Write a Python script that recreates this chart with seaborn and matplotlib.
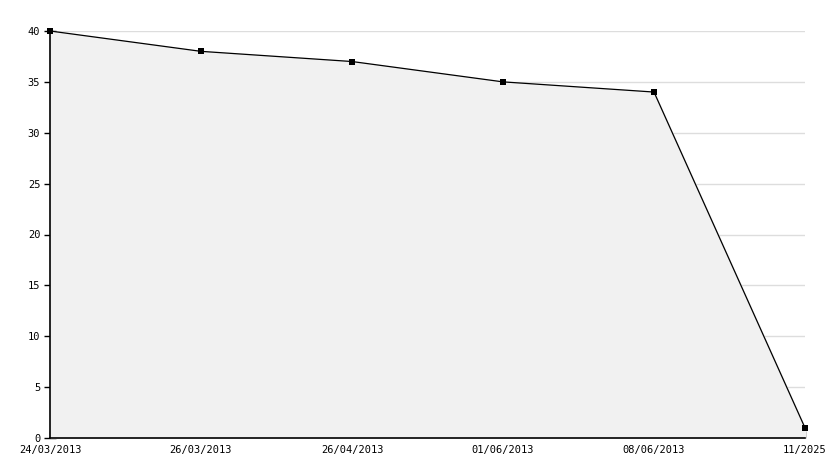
import pandas as pd
import numpy as np
import matplotlib
matplotlib.use("Agg")
import matplotlib.pyplot as plt
import seaborn as sns
from matplotlib.ticker import MultipleLocator

dates = ["24/03/2013", "26/03/2013", "26/04/2013", "01/06/2013", "08/06/2013", "11/2025"]
values = [40, 38, 37, 35, 34, 1]

sns.set_theme(style="white")
plt.rcParams['font.family'] = ['DejaVu Sans Mono', 'DejaVu Sans']

df = pd.DataFrame({"pos": np.arange(len(dates)), "value": values})

fig = plt.figure(figsize=(8.34, 4.68), dpi=100)
ax = fig.add_axes([50 / 834, 30 / 468, 755 / 834, 407 / 468])

ax.fill_between(df["pos"], df["value"], 0, color="#f1f1f1", zorder=1)
sns.lineplot(data=df, x="pos", y="value", ax=ax, color="black", linewidth=0.9,
             marker="s", markersize=4.5, markeredgewidth=0, zorder=3, clip_on=False)

ax.set_xlim(0, len(dates) - 1)
ax.set_ylim(0, 40)
ax.set_xticks(df["pos"])
ax.set_xticklabels(dates)
ax.yaxis.set_major_locator(MultipleLocator(5))
ax.yaxis.set_minor_locator(MultipleLocator(1))

for y in range(5, 41, 5):
    ax.axhline(y, color="#dddddd", linewidth=1, zorder=0)

for s in ["top", "right"]:
    ax.spines[s].set_visible(False)
for s in ["left", "bottom"]:
    ax.spines[s].set_color("black")
    ax.spines[s].set_linewidth(1.2)

ax.tick_params(axis="y", which="major", direction="inout", length=8, width=1,
               labelsize=7.5, colors="black", pad=3, left=True)
ax.tick_params(axis="y", which="minor", direction="in", length=4, width=1,
               colors="black", left=True)
ax.tick_params(axis="x", which="major", direction="in", length=5, width=1,
               labelsize=7.5, colors="black", pad=5, bottom=True)
ax.set_xlabel("")
ax.set_ylabel("")

fig.savefig("out.png", dpi=100)
